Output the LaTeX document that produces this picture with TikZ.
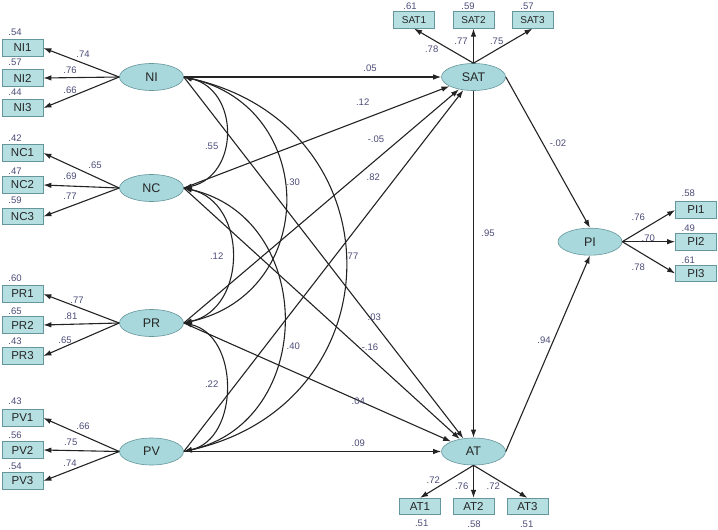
\documentclass[tikz,border=0pt]{standalone}
\usepackage{fontspec}
\setmainfont{Liberation Sans}
\usetikzlibrary{arrows.meta,shapes.geometric}
\definecolor{boxfill}{RGB}{182,223,226}
\definecolor{ellfill}{RGB}{168,216,220}
\definecolor{bordcol}{RGB}{100,150,155}
\definecolor{numcol}{RGB}{75,75,120}
\definecolor{linecol}{RGB}{35,35,35}
\begin{document}
\begin{tikzpicture}[x=1pt,y=-1pt,
  lat/.style={ellipse, draw=bordcol, line width=0.6pt, fill=ellfill, minimum width=64pt, minimum height=27pt, inner sep=0pt, font=\fontsize{12.5}{12}\selectfont, text=black!85},
  obs/.style={rectangle, draw=bordcol, line width=0.7pt, fill=boxfill, minimum width=41pt, minimum height=16.5pt, inner sep=0pt, font=\fontsize{11.5}{12}\selectfont, text=black!85},
  obss/.style={obs, font=\fontsize{10}{11}\selectfont},
  num/.style={font=\fontsize{9.5}{10}\selectfont, text=numcol, inner sep=0pt},
  conn/.style={draw=linecol, line width=1.1pt, -{Latex[length=8pt,width=5.5pt]}},
  cov/.style={draw=linecol, line width=1.1pt, {Latex[length=8pt,width=5.5pt]}-{Latex[length=8pt,width=5.5pt]}}
]
\useasboundingbox (0,0) rectangle (718,530);

% latent variables
\node[lat] (NI) at (151.5,77) {NI};
\node[lat] (NC) at (151.5,188) {NC};
\node[lat] (PR) at (151.5,323) {PR};
\node[lat] (PV) at (151.5,451.5) {PV};
\node[lat] (SAT) at (473.5,77) {SAT};
\node[lat] (AT) at (473.5,451.5) {AT};
\node[lat] (PI) at (590,241.7) {PI};

% indicators
\node[obs] (NI1) at (22.5,48) {NI1};
\node[obs] (NI2) at (22.5,78) {NI2};
\node[obs] (NI3) at (22.5,108) {NI3};
\node[obs] (NC1) at (22.5,153) {NC1};
\node[obs] (NC2) at (22.5,185) {NC2};
\node[obs] (NC3) at (22.5,216.5) {NC3};
\node[obs] (PR1) at (22.5,294) {PR1};
\node[obs] (PR2) at (22.5,325) {PR2};
\node[obs] (PR3) at (22.5,356) {PR3};
\node[obs] (PV1) at (22.5,418) {PV1};
\node[obs] (PV2) at (22.5,450) {PV2};
\node[obs] (PV3) at (22.5,481) {PV3};
\node[obss] (SAT1) at (414,20) {SAT1};
\node[obss] (SAT2) at (473.5,20) {SAT2};
\node[obss] (SAT3) at (532.5,20) {SAT3};
\node[obs] (AT1) at (420,506.5) {AT1};
\node[obs] (AT2) at (473.5,506.5) {AT2};
\node[obs] (AT3) at (527.5,506.5) {AT3};
\node[obs] (PI1) at (696,210) {PI1};
\node[obs] (PI2) at (696,241.7) {PI2};
\node[obs] (PI3) at (696,273.5) {PI3};

% measurement arrows
\foreach \a/\b in {NI/NI1,NI/NI2,NI/NI3,NC/NC1,NC/NC2,NC/NC3,PR/PR1,PR/PR2,PR/PR3,PV/PV1,PV/PV2,PV/PV3}
  \draw[conn] (\a.west) -- (\b.east);
\foreach \b in {SAT1,SAT2,SAT3} \draw[conn] (SAT.north) -- (\b.south);
\foreach \b in {AT1,AT2,AT3} \draw[conn] (AT.south) -- (\b.north);
\foreach \b in {PI1,PI2,PI3} \draw[conn] (PI.east) -- (\b.west);

% structural paths
\draw[conn] (NI.east) -- (SAT.west);
\draw[conn] (NC.east) -- (SAT);
\draw[conn] (PR.east) -- (SAT);
\draw[conn] (PV.east) -- (SAT);
\draw[conn] (NI.east) -- (AT);
\draw[conn] (NC.east) -- (AT);
\draw[conn] (PR.east) -- (AT);
\draw[conn] (PV.east) -- (AT.west);
\draw[conn] (SAT.south) -- (AT.north);
\draw[conn] (SAT.east) -- (PI.north);
\draw[conn] (AT.east) -- (PI.south);

% covariances
\draw[cov] (NI.east) .. controls +(56,12.6) and +(56,-12.6) .. (NC.east);
\draw[cov] (NC.east) .. controls +(64,14.4) and +(64,-14.4) .. (PR.east);
\draw[cov] (PR.east) .. controls +(56,12.6) and +(56,-12.6) .. (PV.east);
\draw[cov] (NI.east) .. controls +(135,30) and +(135,-30) .. (PR.east);
\draw[cov] (NC.east) .. controls +(133,30) and +(133,-30) .. (PV.east);
\draw[cov] (NI.east) .. controls +(215,48) and +(215,-48) .. (PV.east);

% variance labels
\node[num] (v1) at (15,32) {.54};
\node[num] (v2) at (15,62.3) {.57};
\node[num] (v3) at (15,92) {.44};
\node[num] (v4) at (15,138) {.42};
\node[num] (v5) at (15,171.7) {.47};
\node[num] (v6) at (15,200.7) {.59};
\node[num] (v7) at (15,278) {.60};
\node[num] (v8) at (15,311.7) {.65};
\node[num] (v9) at (15,341.7) {.43};
\node[num] (v10) at (15,401.7) {.43};
\node[num] (v11) at (15,435) {.56};
\node[num] (v12) at (15,466) {.54};
\node[num] (v13) at (410,6) {.61};
\node[num] (v14) at (468,6) {.59};
\node[num] (v15) at (527,6) {.57};
\node[num] (v16) at (421.7,523.5) {.51};
\node[num] (v17) at (474,524.5) {.58};
\node[num] (v18) at (526.7,524.5) {.51};
\node[num] (v19) at (688.3,193.3) {.58};
\node[num] (v20) at (688.3,228.3) {.49};
\node[num] (v21) at (688.3,260) {.61};

% loading labels
\node[num] (m1) at (83,54) {.74};
\node[num] (m2) at (70,70) {.76};
\node[num] (m3) at (70,90) {.66};
\node[num] (m4) at (95,165) {.65};
\node[num] (m5) at (70,176.7) {.69};
\node[num] (m6) at (70,196.7) {.77};
\node[num] (m7) at (77,300.7) {.77};
\node[num] (m8) at (70.7,316.7) {.81};
\node[num] (m9) at (65,340) {.65};
\node[num] (m10) at (83,426.7) {.66};
\node[num] (m11) at (70.7,442.7) {.75};
\node[num] (m12) at (70,463) {.74};
\node[num] (m13) at (431.7,49.3) {.78};
\node[num] (m14) at (461,41.7) {.77};
\node[num] (m15) at (496.7,41.7) {.75};
\node[num] (m16) at (433.3,480) {.72};
\node[num] (m17) at (461.7,486) {.76};
\node[num] (m18) at (493.3,486) {.72};
\node[num] (m19) at (638.3,217.3) {.76};
\node[num] (m20) at (648.3,238.3) {.70};
\node[num] (m21) at (638.3,267.3) {.78};

% structural labels
\node[num] (s1) at (370,68.3) {.05};
\node[num] (s2) at (362.7,101.7) {.12};
\node[num] (s3) at (376,139.3) {-.05};
\node[num] (s4) at (373.3,177.7) {.82};
\node[num] (s5) at (211.7,146) {.55};
\node[num] (s6) at (293.3,182.7) {.30};
\node[num] (s7) at (216.7,256) {.12};
\node[num] (s8) at (351.7,256) {.77};
\node[num] (s9) at (374.3,317.3) {.03};
\node[num] (s10) at (370,347.3) {-.16};
\node[num] (s11) at (293.3,346.7) {.40};
\node[num] (s12) at (211.7,384) {.22};
\node[num] (s13) at (358.3,401.7) {.04};
\node[num] (s14) at (358.3,443.3) {.09};
\node[num] (s15) at (488,233) {.95};
\node[num] (s16) at (558,143) {-.02};
\node[num] (s17) at (544,340) {.94};
\end{tikzpicture}
\end{document}
